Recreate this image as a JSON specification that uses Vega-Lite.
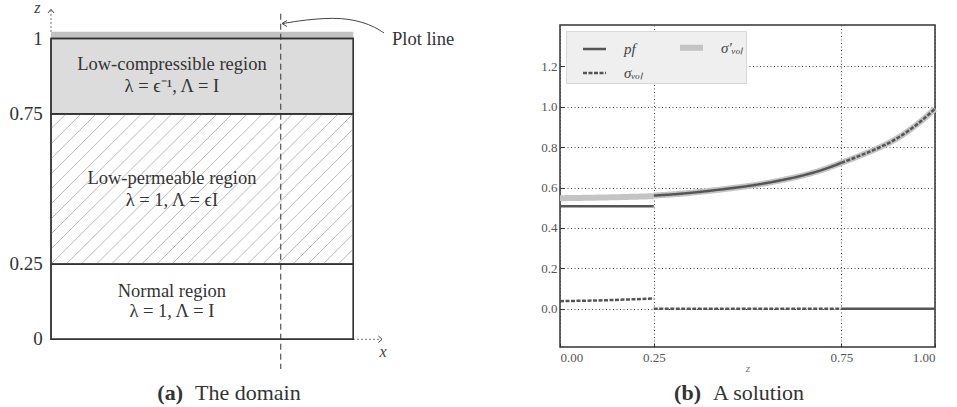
{
  "$schema": "https://vega.github.io/schema/vega-lite/v6.json",
  "padding": 0,
  "spacing": 80,
  "bounds": "flush",
  "background": "white",
  "resolve": {
    "scale": {"color": "independent", "strokeDash": "independent", "strokeWidth": "independent"},
    "legend": {"color": "independent", "strokeDash": "independent", "strokeWidth": "independent"}
  },
  "config": {
    "view": {"stroke": "#333333", "strokeWidth": 1.5},
    "font": "Liberation Serif",
    "legend": {
      "orient": "top-left", "offset": 6, "columns": 2, "direction": "horizontal",
      "fillColor": "#efefef", "strokeColor": "#d8d8d8", "padding": 2, "symbolOffset": 12, "titlePadding": 0,
      "symbolType": "stroke", "symbolSize": 529,
      "labelFont": "Liberation Serif", "labelFontSize": 15, "labelFontStyle": "italic",
      "labelColor": "#444444", "labelOffset": 15, "columnPadding": 22, "rowPadding": 0
    }
  },
  "datasets": {
    "regions": [
      {"kind": "band", "x": 0, "x2": 1, "z": 1.0, "z2": 1.0226},
      {"kind": "normal", "x": 0, "x2": 1, "z": 0, "z2": 0.25},
      {"kind": "perm", "x": 0, "x2": 1, "z": 0.25, "z2": 0.75},
      {"kind": "comp", "x": 0, "x2": 1, "z": 0.75, "z2": 1}
    ],
    "hatch": [
      {"x": 0, "z": 0.70, "x2": 0.05, "z2": 0.75},
      {"x": 0, "z": 0.65, "x2": 0.10, "z2": 0.75},
      {"x": 0, "z": 0.60, "x2": 0.15, "z2": 0.75},
      {"x": 0, "z": 0.55, "x2": 0.20, "z2": 0.75},
      {"x": 0, "z": 0.50, "x2": 0.25, "z2": 0.75},
      {"x": 0, "z": 0.45, "x2": 0.30, "z2": 0.75},
      {"x": 0, "z": 0.40, "x2": 0.35, "z2": 0.75},
      {"x": 0, "z": 0.35, "x2": 0.40, "z2": 0.75},
      {"x": 0, "z": 0.30, "x2": 0.45, "z2": 0.75},
      {"x": 0, "z": 0.25, "x2": 0.50, "z2": 0.75},
      {"x": 0.05, "z": 0.25, "x2": 0.55, "z2": 0.75},
      {"x": 0.10, "z": 0.25, "x2": 0.60, "z2": 0.75},
      {"x": 0.15, "z": 0.25, "x2": 0.65, "z2": 0.75},
      {"x": 0.20, "z": 0.25, "x2": 0.70, "z2": 0.75},
      {"x": 0.25, "z": 0.25, "x2": 0.75, "z2": 0.75},
      {"x": 0.30, "z": 0.25, "x2": 0.80, "z2": 0.75},
      {"x": 0.35, "z": 0.25, "x2": 0.85, "z2": 0.75},
      {"x": 0.40, "z": 0.25, "x2": 0.90, "z2": 0.75},
      {"x": 0.45, "z": 0.25, "x2": 0.95, "z2": 0.75},
      {"x": 0.50, "z": 0.25, "x2": 1.0, "z2": 0.75},
      {"x": 0.55, "z": 0.25, "x2": 1.0, "z2": 0.70},
      {"x": 0.60, "z": 0.25, "x2": 1.0, "z2": 0.65},
      {"x": 0.65, "z": 0.25, "x2": 1.0, "z2": 0.60},
      {"x": 0.70, "z": 0.25, "x2": 1.0, "z2": 0.55},
      {"x": 0.75, "z": 0.25, "x2": 1.0, "z2": 0.50},
      {"x": 0.80, "z": 0.25, "x2": 1.0, "z2": 0.45},
      {"x": 0.85, "z": 0.25, "x2": 1.0, "z2": 0.40},
      {"x": 0.90, "z": 0.25, "x2": 1.0, "z2": 0.35},
      {"x": 0.95, "z": 0.25, "x2": 1.0, "z2": 0.30}
    ],
    "guide": [
      {"x": 0.76, "z": 1.0824, "z2": -0.0987}
    ],
    "paths": [
      {"id": "zaxis", "o": 0, "x": 0, "z": 1.0226},
      {"id": "zaxis", "o": 1, "x": 0, "z": 1.0947},
      {"id": "xaxis", "o": 0, "x": 1.0, "z": 0},
      {"id": "xaxis", "o": 1, "x": 1.088, "z": 0},
      {"id": "zhead", "o": 0, "x": -0.01, "z": 1.085},
      {"id": "zhead", "o": 1, "x": 0, "z": 1.097},
      {"id": "zhead", "o": 2, "x": 0.01, "z": 1.085},
      {"id": "xhead", "o": 0, "x": 1.083, "z": 0.011},
      {"id": "xhead", "o": 1, "x": 1.095, "z": 0},
      {"id": "xhead", "o": 2, "x": 1.083, "z": -0.011},
      {"id": "curve", "o": 0, "x": 1.1016, "z": 1.0183},
      {"id": "curve", "o": 1, "x": 1.0718, "z": 1.0382},
      {"id": "curve", "o": 2, "x": 1.0288, "z": 1.0549},
      {"id": "curve", "o": 3, "x": 0.9825, "z": 1.0648},
      {"id": "curve", "o": 4, "x": 0.9328, "z": 1.0682},
      {"id": "curve", "o": 5, "x": 0.8733, "z": 1.0648},
      {"id": "curve", "o": 6, "x": 0.8171, "z": 1.0582},
      {"id": "curve", "o": 7, "x": 0.7675, "z": 1.0499},
      {"id": "head", "o": 0, "x": 0.7807, "z": 1.0598},
      {"id": "head", "o": 1, "x": 0.7641, "z": 1.0499},
      {"id": "head", "o": 2, "x": 0.7807, "z": 1.0399}
    ],
    "texts": [
      {"role": "region", "x": 0.40, "z": 0.915, "t": "Low-compressible region"},
      {"role": "region", "x": 0.40, "z": 0.842, "t": "λ = ϵ⁻¹,  Λ = I"},
      {"role": "region", "x": 0.40, "z": 0.536, "t": "Low-permeable region"},
      {"role": "region", "x": 0.40, "z": 0.463, "t": "λ = 1,  Λ = ϵI"},
      {"role": "region", "x": 0.40, "z": 0.161, "t": "Normal region"},
      {"role": "region", "x": 0.40, "z": 0.094, "t": "λ = 1,  Λ = I"},
      {"role": "tick", "x": -0.027, "z": 1, "t": "1"},
      {"role": "tick", "x": -0.027, "z": 0.75, "t": "0.75"},
      {"role": "tick", "x": -0.027, "z": 0.25, "t": "0.25"},
      {"role": "tick", "x": -0.027, "z": 0, "t": "0"},
      {"role": "axis", "x": -0.045, "z": 1.10, "t": "z"},
      {"role": "axis", "x": 1.098, "z": -0.042, "t": "x"},
      {"role": "note", "x": 1.128, "z": 0.998, "t": "Plot line"},
      {"role": "cap", "x": 0.4366, "z": -0.1785, "t": "(a)"},
      {"role": "capr", "x": 0.4763, "z": -0.1785, "t": "The domain"}
    ],
    "sol": [
      {"s": "b_sigp", "g": 1, "z": 0, "v": 0.547},
      {"s": "b_sigp", "g": 1, "z": 0.125, "v": 0.551},
      {"s": "b_sigp", "g": 1, "z": 0.25, "v": 0.557},
      {"s": "b_sigp", "g": 2, "z": 0.25, "v": 0.560},
      {"s": "b_sigp", "g": 2, "z": 0.3, "v": 0.566},
      {"s": "b_sigp", "g": 2, "z": 0.35, "v": 0.574},
      {"s": "b_sigp", "g": 2, "z": 0.4, "v": 0.584},
      {"s": "b_sigp", "g": 2, "z": 0.45, "v": 0.595},
      {"s": "b_sigp", "g": 2, "z": 0.5, "v": 0.607},
      {"s": "b_sigp", "g": 2, "z": 0.55, "v": 0.622},
      {"s": "b_sigp", "g": 2, "z": 0.6, "v": 0.640},
      {"s": "b_sigp", "g": 2, "z": 0.65, "v": 0.661},
      {"s": "b_sigp", "g": 2, "z": 0.7, "v": 0.688},
      {"s": "b_sigp", "g": 2, "z": 0.75, "v": 0.722},
      {"s": "b_sigp", "g": 2, "z": 0.8, "v": 0.758},
      {"s": "b_sigp", "g": 2, "z": 0.85, "v": 0.797},
      {"s": "b_sigp", "g": 2, "z": 0.9, "v": 0.845},
      {"s": "b_sigp", "g": 2, "z": 0.95, "v": 0.910},
      {"s": "b_sigp", "g": 2, "z": 1.0, "v": 0.990},
      {"s": "a_pf", "g": 1, "z": 0, "v": 0.507},
      {"s": "a_pf", "g": 1, "z": 0.25, "v": 0.507},
      {"s": "a_pf", "g": 2, "z": 0.25, "v": 0.560},
      {"s": "a_pf", "g": 2, "z": 0.3, "v": 0.566},
      {"s": "a_pf", "g": 2, "z": 0.35, "v": 0.574},
      {"s": "a_pf", "g": 2, "z": 0.4, "v": 0.584},
      {"s": "a_pf", "g": 2, "z": 0.45, "v": 0.595},
      {"s": "a_pf", "g": 2, "z": 0.5, "v": 0.607},
      {"s": "a_pf", "g": 2, "z": 0.55, "v": 0.622},
      {"s": "a_pf", "g": 2, "z": 0.6, "v": 0.640},
      {"s": "a_pf", "g": 2, "z": 0.65, "v": 0.661},
      {"s": "a_pf", "g": 2, "z": 0.7, "v": 0.688},
      {"s": "a_pf", "g": 2, "z": 0.75, "v": 0.722},
      {"s": "a_pf", "g": 3, "z": 0.75, "v": 0},
      {"s": "a_pf", "g": 3, "z": 1.0, "v": 0},
      {"s": "c_sig", "g": 1, "z": 0, "v": 0.037},
      {"s": "c_sig", "g": 1, "z": 0.125, "v": 0.042},
      {"s": "c_sig", "g": 1, "z": 0.25, "v": 0.050},
      {"s": "c_sig", "g": 2, "z": 0.25, "v": 0},
      {"s": "c_sig", "g": 2, "z": 0.75, "v": 0},
      {"s": "c_sig", "g": 3, "z": 0.75, "v": 0.722},
      {"s": "c_sig", "g": 3, "z": 0.8, "v": 0.758},
      {"s": "c_sig", "g": 3, "z": 0.85, "v": 0.797},
      {"s": "c_sig", "g": 3, "z": 0.9, "v": 0.845},
      {"s": "c_sig", "g": 3, "z": 0.95, "v": 0.910},
      {"s": "c_sig", "g": 3, "z": 1.0, "v": 0.990}
    ],
    "capb": [
      {"role": "cap", "z": 0.376, "v": -0.42, "t": "(b)"},
      {"role": "capr", "z": 0.408, "v": -0.42, "t": "A solution"}
    ]
  },
  "hconcat": [
    {
      "width": 480,
      "height": 383,
      "view": {"stroke": null},
      "encoding": {
        "x": {"field": "x", "type": "quantitative", "scale": {"domain": [-0.1687, 1.4191], "nice": false, "zero": false}, "axis": null},
        "y": {"field": "z", "type": "quantitative", "scale": {"domain": [-0.2284, 1.0449], "nice": false, "zero": false}, "axis": null}
      },
      "layer": [
        {
          "data": {"name": "regions"},
          "transform": [{"filter": "datum.kind === 'band'"}],
          "mark": {"type": "rect", "fill": "#c2c2c2"},
          "encoding": {"x2": {"field": "x2"}, "y2": {"field": "z2"}}
        },
        {
          "data": {"name": "regions"},
          "transform": [{"filter": "datum.kind !== 'band'"}],
          "mark": {"type": "rect", "stroke": "#333333", "strokeWidth": 1.4},
          "encoding": {
            "x2": {"field": "x2"}, "y2": {"field": "z2"},
            "fill": {"field": "kind", "type": "nominal", "scale": {"domain": ["normal", "perm", "comp"], "range": ["#ffffff", "#ffffff", "#dcdcdc"]}, "legend": null}
          }
        },
        {
          "data": {"name": "hatch"},
          "mark": {"type": "rule", "stroke": "#a8a8a8", "strokeWidth": 0.8},
          "encoding": {"x2": {"field": "x2"}, "y2": {"field": "z2"}}
        },
        {
          "data": {"name": "regions"},
          "transform": [{"filter": "datum.kind !== 'band'"}],
          "mark": {"type": "rect", "fillOpacity": 0, "stroke": "#333333", "strokeWidth": 1.4},
          "encoding": {"x2": {"field": "x2"}, "y2": {"field": "z2"}}
        },
        {
          "data": {"name": "guide"},
          "mark": {"type": "rule", "stroke": "#333333", "strokeWidth": 1, "strokeDash": [6, 4]},
          "encoding": {"y2": {"field": "z2"}}
        },
        {
          "data": {"name": "paths"},
          "transform": [{"filter": "datum.id === 'zaxis' || datum.id === 'xaxis'"}],
          "mark": {"type": "line", "stroke": "#444444", "strokeWidth": 1, "strokeDash": [1.5, 2.5]},
          "encoding": {"detail": {"field": "id"}, "order": {"field": "o"}}
        },
        {
          "data": {"name": "paths"},
          "transform": [{"filter": "datum.id !== 'zaxis' && datum.id !== 'xaxis' && datum.id !== 'curve'"}],
          "mark": {"type": "line", "stroke": "#444444", "strokeWidth": 1},
          "encoding": {"detail": {"field": "id"}, "order": {"field": "o"}}
        },
        {
          "data": {"name": "paths"},
          "transform": [{"filter": "datum.id === 'curve'"}],
          "mark": {"type": "line", "stroke": "#444444", "strokeWidth": 1, "interpolate": "basis"},
          "encoding": {"order": {"field": "o"}}
        },
        {
          "data": {"name": "texts"},
          "transform": [{"filter": "datum.role === 'region'"}],
          "mark": {"type": "text", "font": "Liberation Serif", "fontSize": 18.5, "color": "#333333", "align": "center", "baseline": "middle"},
          "encoding": {"text": {"field": "t"}}
        },
        {
          "data": {"name": "texts"},
          "transform": [{"filter": "datum.role === 'tick'"}],
          "mark": {"type": "text", "font": "Liberation Serif", "fontSize": 19, "color": "#333333", "align": "right", "baseline": "middle"},
          "encoding": {"text": {"field": "t"}}
        },
        {
          "data": {"name": "texts"},
          "transform": [{"filter": "datum.role === 'axis'"}],
          "mark": {"type": "text", "font": "Liberation Serif", "fontSize": 16, "fontStyle": "italic", "color": "#444444", "align": "center", "baseline": "middle"},
          "encoding": {"text": {"field": "t"}}
        },
        {
          "data": {"name": "texts"},
          "transform": [{"filter": "datum.role === 'note'"}],
          "mark": {"type": "text", "font": "Liberation Serif", "fontSize": 18.5, "color": "#333333", "align": "left", "baseline": "middle"},
          "encoding": {"text": {"field": "t"}}
        },
        {
          "data": {"name": "texts"},
          "transform": [{"filter": "datum.role === 'cap'"}],
          "mark": {"type": "text", "font": "Liberation Serif", "fontSize": 22, "fontWeight": "bold", "color": "#333333", "align": "right", "baseline": "middle"},
          "encoding": {"text": {"field": "t"}}
        },
        {
          "data": {"name": "texts"},
          "transform": [{"filter": "datum.role === 'capr'"}],
          "mark": {"type": "text", "font": "Liberation Serif", "fontSize": 22, "color": "#333333", "align": "left", "baseline": "middle"},
          "encoding": {"text": {"field": "t"}}
        }
      ]
    },
    {
      "width": 375,
      "height": 322,
      "encoding": {
        "x": {
          "field": "z", "type": "quantitative",
          "scale": {"domain": [0, 1], "nice": false, "zero": false},
          "axis": {
            "values": [0, 0.25, 0.75, 1], "format": ".2f", "title": "z",
            "titleFont": "Liberation Serif", "titleFontStyle": "italic", "titleFontWeight": "normal", "titleFontSize": 11, "titleColor": "#777777",
            "titleY": 21, "titleBaseline": "middle",
            "labelFont": "Liberation Serif", "labelFontSize": 13, "labelColor": "#555555", "labelPadding": 8,
            "grid": true, "gridDash": [1, 2.5], "gridColor": "#444444", "gridWidth": 1,
            "domain": false, "tickSize": -4, "tickColor": "#333333"
          }
        },
        "y": {
          "field": "v", "type": "quantitative",
          "scale": {"domain": [-0.19, 1.405], "nice": false, "zero": false},
          "axis": {
            "values": [0, 0.2, 0.4, 0.6, 0.8, 1.0, 1.2], "format": ".1f", "title": null,
            "labelFont": "Liberation Serif", "labelFontSize": 13, "labelColor": "#555555", "labelPadding": 7,
            "grid": true, "gridDash": [1, 2.5], "gridColor": "#444444", "gridWidth": 1,
            "domain": false, "tickSize": -4, "tickColor": "#333333"
          }
        },
        "color": {"field": "s", "type": "nominal", "scale": {"domain": ["a_pf", "b_sigp", "c_sig"], "range": ["#555555", "#c4c4c4", "#555555"]}, "legend": {"title": null, "labelExpr": "datum.value === 'a_pf' ? 'pf' : datum.value === 'b_sigp' ? 'σ′ᵥₒₗ' : 'σᵥₒₗ'"}},
        "strokeDash": {"field": "s", "type": "nominal", "scale": {"domain": ["a_pf", "b_sigp", "c_sig"], "range": [[1, 0], [1, 0], [4, 1.5]]}, "legend": {"title": null, "labelExpr": "datum.value === 'a_pf' ? 'pf' : datum.value === 'b_sigp' ? 'σ′ᵥₒₗ' : 'σᵥₒₗ'"}},
        "strokeWidth": {"field": "s", "type": "nominal", "scale": {"type": "ordinal", "domain": ["a_pf", "b_sigp", "c_sig"], "range": [2.5, 6, 2.5]}, "legend": {"title": null, "labelExpr": "datum.value === 'a_pf' ? 'pf' : datum.value === 'b_sigp' ? 'σ′ᵥₒₗ' : 'σᵥₒₗ'"}}
      },
      "layer": [
        {
          "data": {"name": "sol"},
          "transform": [{"filter": "datum.s === 'b_sigp'"}],
          "mark": {"type": "line", "interpolate": "monotone"},
          "encoding": {"detail": {"field": "g"}}
        },
        {
          "data": {"name": "sol"},
          "transform": [{"filter": "datum.s === 'a_pf'"}],
          "mark": {"type": "line", "interpolate": "monotone"},
          "encoding": {"detail": {"field": "g"}}
        },
        {
          "data": {"name": "sol"},
          "transform": [{"filter": "datum.s === 'c_sig'"}],
          "mark": {"type": "line", "interpolate": "monotone"},
          "encoding": {"detail": {"field": "g"}}
        },
        {
          "data": {"name": "capb"},
          "transform": [{"filter": "datum.role === 'cap'"}],
          "mark": {"type": "text", "font": "Liberation Serif", "fontSize": 22, "fontWeight": "bold", "color": "#333333", "align": "right", "baseline": "middle"},
          "encoding": {"text": {"field": "t"}, "color": {"value": "#333333"}, "strokeDash": {"value": [1, 0]}, "strokeWidth": {"value": 0}}
        },
        {
          "data": {"name": "capb"},
          "transform": [{"filter": "datum.role === 'capr'"}],
          "mark": {"type": "text", "font": "Liberation Serif", "fontSize": 22, "color": "#333333", "align": "left", "baseline": "middle"},
          "encoding": {"text": {"field": "t"}, "color": {"value": "#333333"}, "strokeDash": {"value": [1, 0]}, "strokeWidth": {"value": 0}}
        }
      ]
    }
  ]
}
